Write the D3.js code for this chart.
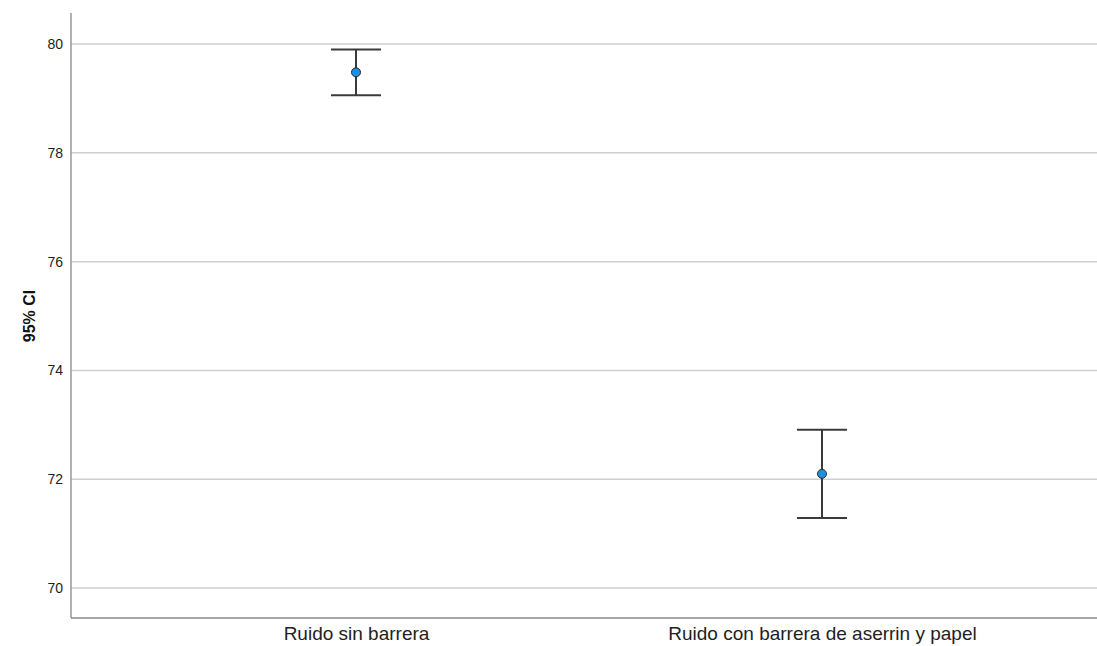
<!DOCTYPE html>
<html><head><meta charset="utf-8">
<script src="https://cdn.jsdelivr.net/npm/d3@7"></script>
<style>body{margin:0;background:#fff}svg{display:block}</style>
</head><body>
<svg id="c" width="1097" height="646"></svg>
<script>
const categories = ["Ruido sin barrera", "Ruido con barrera de aserrin y papel"];
const means = [79.48, 72.10];
const lower = [79.06, 71.29];
const upper = [79.90, 72.91];
const yTicks = [70, 72, 74, 76, 78, 80];

(function () {
const svg = d3.select("#c");
const mLeft = 71, mRight = 1097, mTop = 13, mBottom = 618;
const y = d3.scaleLinear().domain([69.45, 80.57]).range([mBottom, mTop]);
const x = d3.scalePoint().domain(categories).range([mLeft, 1107]).padding(0.6116);
const font = "Liberation Sans, Arial, sans-serif";

svg.append("g").selectAll("line").data(yTicks).join("line")
  .attr("x1", mLeft).attr("x2", mRight)
  .attr("y1", d => y(d)).attr("y2", d => y(d))
  .attr("stroke", "#cfcfcf").attr("stroke-width", 1.5);

const ya = svg.append("g").attr("transform", `translate(${mLeft},0)`)
  .call(d3.axisLeft(y).tickValues(yTicks).tickSize(0).tickPadding(8));
ya.select(".domain").remove();
ya.selectAll("text").attr("font-family", font).attr("font-size", 14).attr("fill", "#222");

const xa = svg.append("g").attr("transform", `translate(0,${mBottom})`)
  .call(d3.axisBottom(x).tickSize(0).tickPadding(9));
xa.select(".domain").remove();
xa.selectAll("text").attr("font-family", font).attr("font-size", 19).attr("fill", "#222");

svg.append("line").attr("x1", mLeft).attr("x2", mLeft).attr("y1", mTop).attr("y2", mBottom)
  .attr("stroke", "#999").attr("stroke-width", 1.5);
svg.append("line").attr("x1", mLeft).attr("x2", mRight).attr("y1", mBottom).attr("y2", mBottom)
  .attr("stroke", "#888").attr("stroke-width", 1.5);

svg.append("text").attr("transform", `translate(35,316) rotate(-90)`)
  .attr("text-anchor", "middle").attr("font-family", font)
  .attr("font-size", 16).attr("font-weight", "bold").attr("fill", "#111").text("95% CI");

const data = categories.map((c, i) => ({c, m: means[i], lo: lower[i], hi: upper[i]}));
const g = svg.append("g");
const cap = 25;
g.selectAll(".v").data(data).join("line").attr("class", "v")
  .attr("x1", d => x(d.c)).attr("x2", d => x(d.c))
  .attr("y1", d => y(d.hi)).attr("y2", d => y(d.lo))
  .attr("stroke", "#3a3a3a").attr("stroke-width", 2);
g.selectAll(".hi").data(data).join("line").attr("class", "hi")
  .attr("x1", d => x(d.c) - cap).attr("x2", d => x(d.c) + cap)
  .attr("y1", d => y(d.hi)).attr("y2", d => y(d.hi))
  .attr("stroke", "#3a3a3a").attr("stroke-width", 2);
g.selectAll(".lo").data(data).join("line").attr("class", "lo")
  .attr("x1", d => x(d.c) - cap).attr("x2", d => x(d.c) + cap)
  .attr("y1", d => y(d.lo)).attr("y2", d => y(d.lo))
  .attr("stroke", "#3a3a3a").attr("stroke-width", 2);
g.selectAll("circle").data(data).join("circle")
  .attr("cx", d => x(d.c)).attr("cy", d => y(d.m)).attr("r", 4.5)
  .attr("fill", "#1f8fe0").attr("stroke", "#2a2a2a").attr("stroke-width", 1);
})();
</script>
</body></html>
